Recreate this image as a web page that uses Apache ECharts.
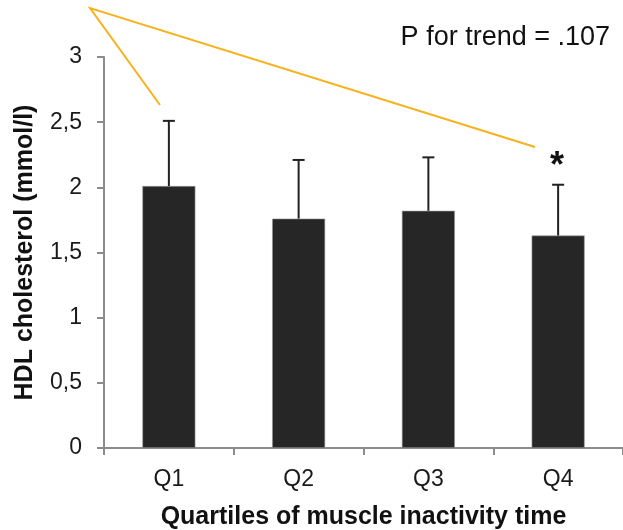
<!DOCTYPE html>
<html>
<head>
<meta charset="utf-8">
<script src="https://cdn.jsdelivr.net/npm/echarts@6/dist/echarts.min.js"></script>
<style>
  html, body { margin: 0; padding: 0; background: #fff; }
  #chart { width: 623px; height: 530px; }
</style>
</head>
<body>
<div id="chart"></div>
<script>
// quartiles of muscle inactivity time
var quartiles = ['Q1', 'Q2', 'Q3', 'Q4'];
// mean HDL cholesterol (mmol/l)
var hdlMean = [2.01, 1.76, 1.82, 1.63];
// upper error (SD)
var hdlErr = [0.50, 0.45, 0.41, 0.39];
// significance marks above bars
var sigMarks = ['', '', '', '*'];
var yTicks = { min: 0, max: 3, step: 0.5 };

var FONT = 'Liberation Sans, Arial, sans-serif';

var chart = echarts.init(document.getElementById('chart'));

var errData = quartiles.map(function (q, i) {
  return [i, hdlMean[i], hdlMean[i] + hdlErr[i]];
});

var option = {
  animation: false,
  grid: { left: 104, right: 0, top: 57, bottom: 82, outerBoundsMode: 'none', containLabel: false },
  xAxis: {
    type: 'category',
    data: quartiles,
    name: 'Quartiles of muscle inactivity time',
    nameLocation: 'middle',
    nameGap: 57,
    nameTextStyle: { fontFamily: FONT, fontSize: 25, fontWeight: 'bold', color: '#111' },
    axisLine: { lineStyle: { color: '#8c8c8c', width: 2 } },
    axisTick: { show: true, length: 7, lineStyle: { color: '#8c8c8c', width: 2 } },
    axisLabel: { fontFamily: FONT, fontSize: 23, color: '#1a1a1a', margin: 20 }
  },
  yAxis: {
    type: 'value',
    min: yTicks.min,
    max: yTicks.max,
    interval: yTicks.step,
    name: 'HDL cholesterol (mmol/l)',
    nameLocation: 'middle',
    nameGap: 66,
    nameTextStyle: { fontFamily: FONT, fontSize: 25, fontWeight: 'bold', color: '#111' },
    axisLine: { show: true, lineStyle: { color: '#8c8c8c', width: 2 } },
    axisTick: { show: true, length: 7, lineStyle: { color: '#8c8c8c', width: 2 } },
    splitLine: { show: false },
    axisLabel: {
      fontFamily: FONT, fontSize: 23, color: '#1a1a1a', margin: 22,
      formatter: function (v) { return String(v).replace('.', ','); }
    }
  },
  graphic: [
    {
      type: 'text',
      style: {
        text: 'P for trend = .107',
        x: 610, y: 38,
        textAlign: 'right', textVerticalAlign: 'middle',
        font: '27px ' + FONT,
        fill: '#111'
      }
    },
    {
      type: 'polyline',
      shape: { points: [[160, 105], [90, 8], [535, 147]] },
      style: { stroke: '#f7b21d', lineWidth: 2, fill: null }
    }
  ],
  series: [
    {
      type: 'bar',
      data: hdlMean,
      barWidth: 53,
      itemStyle: { color: '#262626', borderColor: '#9a9a9a', borderWidth: 0.6 }
    },
    {
      type: 'custom',
      data: errData,
      z: 3,
      renderItem: function (params, api) {
        var x = api.value(0);
        var lo = api.coord([x, api.value(1)]);
        var hi = api.coord([x, api.value(2)]);
        var cap = 6;
        var lineStyle = { stroke: '#222', lineWidth: 2 };
        var children = [
          { type: 'line', shape: { x1: hi[0], y1: lo[1], x2: hi[0], y2: hi[1] }, style: lineStyle },
          { type: 'line', shape: { x1: hi[0] - cap, y1: hi[1], x2: hi[0] + cap, y2: hi[1] }, style: lineStyle }
        ];
        var mark = sigMarks[params.dataIndex];
        if (mark) {
          children.push({
            type: 'text',
            style: {
              text: mark,
              x: hi[0] - 1, y: hi[1],
              textAlign: 'center', textVerticalAlign: 'bottom',
              font: 'bold 36px ' + FONT,
              fill: '#111'
            }
          });
        }
        return { type: 'group', children: children };
      }
    }
  ]
};

chart.setOption(option);
</script>
</body>
</html>
